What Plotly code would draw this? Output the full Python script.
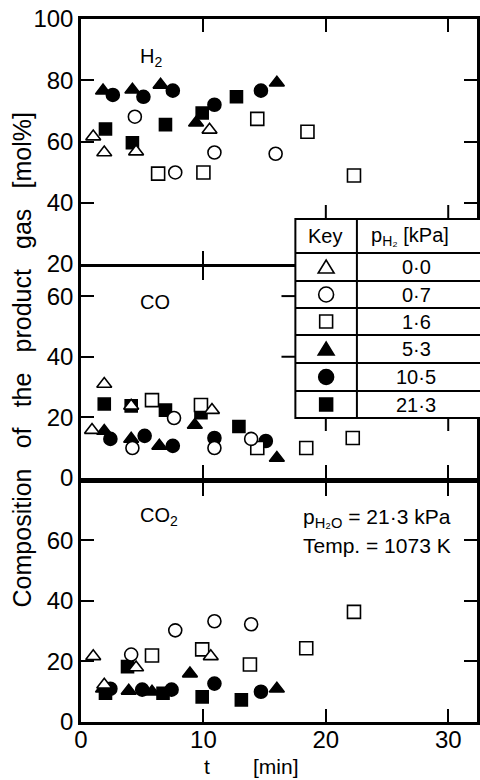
import plotly.graph_objects as go

# ---------------- data ----------------
# marker key: p_H2 [kPa]
key_labels = ["0·0", "0·7", "1·6", "5·3", "10·5", "21·3"]

# H2 panel
t_h2_00 = [1.0, 1.9, 4.5, 10.5]
h2_00 = [61.6, 56.4, 56.7, 63.8]
t_h2_07 = [4.4, 7.7, 10.9, 15.9]
h2_07 = [68.1, 49.9, 56.4, 56.0]
t_h2_16 = [6.3, 10.0, 14.4, 18.5, 22.3]
h2_16 = [49.5, 49.9, 67.4, 63.2, 48.9]
t_h2_53 = [1.8, 4.2, 6.5, 9.4, 16.0]
h2_53 = [76.6, 76.9, 78.5, 66.1, 79.2]
t_h2_105 = [2.6, 5.1, 7.5, 10.9, 14.7]
h2_105 = [75.2, 74.6, 76.6, 72.0, 76.6]
t_h2_213 = [2.0, 4.2, 6.9, 9.9, 12.7]
h2_213 = [64.1, 59.6, 65.5, 69.3, 74.6]

# CO panel
t_co_00 = [0.9, 1.9, 4.1, 10.7]
co_00 = [15.8, 31.0, 23.8, 22.4]
t_co_07 = [4.2, 7.6, 10.9, 13.9]
co_07 = [9.9, 19.8, 9.9, 12.9]
t_co_16 = [5.8, 9.8, 14.4, 18.4, 22.2]
co_16 = [25.7, 24.1, 9.9, 9.9, 13.2]
t_co_53 = [1.9, 4.1, 6.4, 9.3, 16.0]
co_53 = [15.5, 12.9, 10.6, 17.5, 6.6]
t_co_105 = [2.4, 5.2, 7.5, 10.9, 15.1]
co_105 = [12.9, 13.9, 10.6, 13.2, 12.2]
t_co_213 = [1.9, 4.1, 6.9, 9.8, 12.9]
co_213 = [24.4, 23.8, 22.4, 21.5, 17.0]

# CO2 panel
t_co2_00 = [1.0, 1.9, 4.5, 10.6]
co2_00 = [21.7, 12.3, 18.0, 21.7]
t_co2_07 = [4.1, 7.7, 10.9, 13.9]
co2_07 = [22.3, 30.3, 33.3, 32.3]
t_co2_16 = [5.8, 9.9, 13.8, 18.4, 22.3]
co2_16 = [22.0, 24.0, 19.0, 24.4, 36.4]
t_co2_53 = [1.8, 3.9, 5.8, 8.9, 16.0]
co2_53 = [11.0, 10.3, 10.0, 16.0, 11.0]
t_co2_105 = [2.4, 5.0, 7.4, 10.9, 14.7]
co2_105 = [11.0, 10.7, 10.7, 12.7, 10.0]
t_co2_213 = [2.0, 3.8, 6.7, 9.9, 13.1]
co2_213 = [9.5, 18.3, 9.5, 8.3, 7.3]

x_tickvals = [0, 10, 20, 30]
h2_tickvals = [20, 40, 60, 80, 100]
co_tickvals = [0, 20, 40, 60]
co2_tickvals = [0, 20, 40, 60]

# ---------------- styling ----------------
FONT = "Liberation Sans, Arial, sans-serif"
W, H = 480, 780
L, R, T, B = 81, 0, 19, 58
PW, PH = W - L - R, H - T - B


def px(x):
    return (x - L) / PW


def py(y):
    return (H - B - y) / PH


symbols = ["triangle-up", "circle", "square", "triangle-up", "circle", "square"]
fills = ["white", "white", "white", "black", "black", "black"]
sizes = [13, 13, 13, 13, 13, 12]

panels = [
    ("x", "y", [(t_h2_00, h2_00), (t_h2_07, h2_07), (t_h2_16, h2_16),
                (t_h2_53, h2_53), (t_h2_105, h2_105), (t_h2_213, h2_213)]),
    ("x2", "y2", [(t_co_00, co_00), (t_co_07, co_07), (t_co_16, co_16),
                  (t_co_53, co_53), (t_co_105, co_105), (t_co_213, co_213)]),
    ("x3", "y3", [(t_co2_00, co2_00), (t_co2_07, co2_07), (t_co2_16, co2_16),
                  (t_co2_53, co2_53), (t_co2_105, co2_105), (t_co2_213, co2_213)]),
]

fig = go.Figure()
draw_order = [5, 4, 3, 2, 1, 0]
for xa, ya, series in panels:
    for i in draw_order:
        xs, ys = series[i]
        fig.add_trace(go.Scatter(
            x=xs, y=ys, xaxis=xa, yaxis=ya, mode="markers",
            name=key_labels[i], showlegend=False,
            marker=dict(symbol=symbols[i], size=sizes[i], color=fills[i],
                        line=dict(color="black", width=1.6)),
        ))

axis_common = dict(showline=True, linecolor="black", linewidth=2.5, mirror="ticks",
                   ticks="inside", ticklen=13, tickwidth=2, tickcolor="black",
                   showgrid=False, zeroline=False,
                   tickfont=dict(family=FONT, size=24, color="black"))

xr = [0, 32.35]
doms = [[py(264), 1.0], [py(478), py(267)], [0.0, py(483)]]

fig.update_layout(
    width=W, height=H, margin=dict(l=L, r=R, t=T, b=B),
    paper_bgcolor="white", plot_bgcolor="white",
    font=dict(family=FONT, color="black"),
    xaxis=dict(range=xr, tickvals=x_tickvals, showticklabels=False, anchor="y", **axis_common),
    yaxis=dict(range=[20, 100], tickvals=h2_tickvals, domain=doms[0], anchor="x", **axis_common),
    xaxis2=dict(range=xr, tickvals=x_tickvals, showticklabels=False, anchor="y2", matches="x", **axis_common),
    yaxis2=dict(range=[0, 69.6], tickvals=co_tickvals, domain=doms[1], anchor="x2", **axis_common),
    xaxis3=dict(range=xr, tickvals=x_tickvals, showticklabels=True, anchor="y3", matches="x",
                ticklabelstandoff=-6, **axis_common),
    yaxis3=dict(range=[0, 79], tickvals=co2_tickvals, domain=doms[2], anchor="x3", **axis_common),
)

ann = []


def text(x, y, s, size=20, xanchor="center", angle=0, yanchor="middle", pad=1):
    ann.append(dict(x=x, y=y, xref="paper", yref="paper", text=s, showarrow=False,
                    xanchor=xanchor, yanchor=yanchor, textangle=angle, borderpad=pad,
                    font=dict(family=FONT, size=size, color="black")))


text(px(152), py(57), "H<sub>2</sub>")
text(px(156), py(302), "CO")
text(px(160), py(516), "CO<sub>2</sub>")
text(px(303), py(518), "p<sub>H₂O</sub> = 21·3 kPa", size=21, xanchor="left")
text(px(303), py(545), "Temp. = 1073 K", size=21, xanchor="left")
nb = "\u00a0\u00a0\u2005"
text(px(22), py(360), nb.join(["Composition", "of", "the", "product", "gas", "[mol%]"]), size=25, angle=-90)
text(px(208), py(779), "t", size=21, yanchor="bottom", pad=0)
text(px(277), py(779), "[min]", size=21, yanchor="bottom", pad=0)

# ---------------- key table ----------------
shapes = []
tl, tr, tt, tb, tdiv = 297, 492, 219, 418, 359
row_lines = [253, 281, 308, 335, 363, 391]
line = dict(color="black", width=2)
shapes.append(dict(type="rect", xref="paper", yref="paper", x0=px(tl), x1=px(tr),
                   y0=py(tb), y1=py(tt), fillcolor="white", line=line, layer="above"))
for yl in row_lines:
    shapes.append(dict(type="line", xref="paper", yref="paper", x0=px(tl), x1=px(tr),
                       y0=py(yl), y1=py(yl), line=line, layer="above"))
shapes.append(dict(type="line", xref="paper", yref="paper", x0=px(tdiv), x1=px(tdiv),
                   y0=py(tb), y1=py(tt), line=line, layer="above"))
# axis tick stubs redrawn along the table edges
for xv in [20, 30]:
    shapes.append(dict(type="line", xref="x", yref="paper", x0=xv, x1=xv,
                       y0=py(tt), y1=py(tt - 14), line=line, layer="above"))
    shapes.append(dict(type="line", xref="x2", yref="paper", x0=xv, x1=xv,
                       y0=py(tb), y1=py(tb + 13), line=line, layer="above"))
for yv in [40, 60]:
    shapes.append(dict(type="line", xref="paper", yref="y2", x0=px(tl - 14), x1=px(tl),
                       y0=yv, y1=yv, line=line, layer="above"))

text(px(327), py(236), "Key", size=20)
text(px(412), py(237), "p<sub>H₂</sub> [kPa]", size=20)
bounds = [253] + row_lines[1:] + [tb]
row_c = [(bounds[i] + bounds[i + 1]) / 2 for i in range(6)]
cx = 328
for i, c in enumerate(row_c):
    text(px(419), py(c), key_labels[i], size=20)
    fc = fills[i]
    sl = dict(color="black", width=1.6)
    if symbols[i] == "triangle-up":
        path = "M {:.5f},{:.5f} L {:.5f},{:.5f} L {:.5f},{:.5f} Z".format(
            px(cx - 8), py(c + 6), px(cx + 8), py(c + 6), px(cx), py(c - 7))
        shapes.append(dict(type="path", xref="paper", yref="paper", path=path,
                           fillcolor=fc, line=sl, layer="above"))
    elif symbols[i] == "circle":
        shapes.append(dict(type="circle", xref="paper", yref="paper",
                           x0=px(cx - 7.5), x1=px(cx + 7.5), y0=py(c + 7.5), y1=py(c - 7.5),
                           fillcolor=fc, line=sl, layer="above"))
    else:
        shapes.append(dict(type="rect", xref="paper", yref="paper",
                           x0=px(cx - 6.5), x1=px(cx + 6.5), y0=py(c + 6.5), y1=py(c - 6.5),
                           fillcolor=fc, line=sl, layer="above"))

fig.update_layout(annotations=ann, shapes=shapes)
fig.write_html("out.html")
